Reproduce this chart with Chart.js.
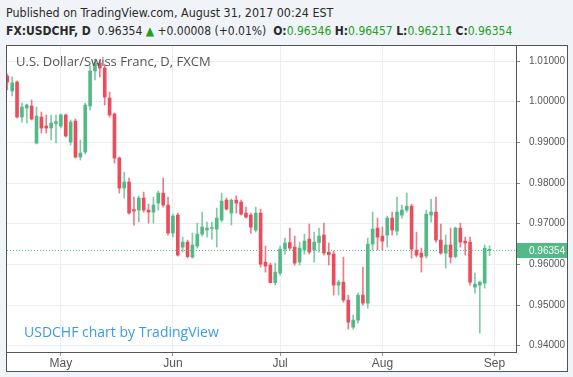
<!DOCTYPE html>
<html>
<head>
<meta charset="utf-8">
<script src="https://cdn.jsdelivr.net/npm/chart.js@4.4.0/dist/chart.umd.min.js"></script>
<style>
  body { margin: 0; background: #f0f3f7; width: 573px; height: 377px; overflow: hidden; position: relative; font-family: "Liberation Sans Narrow", "DejaVu Sans Condensed", "Liberation Sans", sans-serif; }
  .hdr { position: absolute; left: 6px; color: #2b2b2b; white-space: nowrap; }
  #hdr1 { top: 5px; font-size: 12.4px; }
  #hdr2 { top: 24px; font-size: 12px; }
  .b { font-weight: bold; }
  .g { color: #20a020; }
  #box { position: absolute; left: 6px; top: 45px; width: 560px; height: 325px; border: 1px solid #555; background: #fff; }
  #box canvas { position: absolute; left: 0; top: 0; }
  #wm1 { position: absolute; left: 9px; top: 6px; font: 13px "Open Sans", sans-serif; color: #555; }
  #wm2 { position: absolute; left: 17px; top: 276px; font: 14px "Open Sans", sans-serif; color: #3a9de0; }
</style>
</head>
<body>
<div class="hdr" id="hdr1">Published on TradingView.com, August 31, 2017 00:24 EST</div>
<div class="hdr" id="hdr2"><span class="b">FX:USDCHF, D</span>&nbsp; 0.96354 <span class="g">&#9650;</span> +0.00008 (+0.01%) &nbsp;<span class="b">O:</span><span class="g">0.96346</span> <span class="b">H:</span><span class="g">0.96457</span> <span class="b">L:</span><span class="g">0.96211</span> <span class="b">C:</span><span class="g">0.96354</span></div>
<div id="box">
  <canvas id="myChart" width="560" height="325" style="width:560px;height:325px"></canvas>
  <div id="wm1">U.S. Dollar/Swiss Franc, D, FXCM</div>
  <div id="wm2">USDCHF chart by TradingView</div>
</div>
<script>
// daily candles, Apr 14 - Aug 31 2017
const openP = [1.00631, 1.00262, 1.00483, 0.99622, 0.99844, 0.99893, 0.98983, 0.99622, 0.99401, 0.99352,
  0.99463, 0.99401, 0.99672, 0.99007, 0.99524, 0.98638, 0.98761, 0.99893, 1.00754, 1.00951,
  1.00828, 1.00090, 0.99696, 0.98614, 0.97876, 0.98023, 0.97347, 0.97335, 0.97630, 0.97335,
  0.97285, 0.97507, 0.97753, 0.97458, 0.96769, 0.97212, 0.96424, 0.96547, 0.96178, 0.96449,
  0.96744, 0.96843, 0.96880, 0.96867, 0.97089, 0.97581, 0.97261, 0.97581, 0.97531, 0.97261,
  0.97212, 0.96843, 0.97261, 0.96055, 0.95982, 0.95551, 0.95785, 0.96375, 0.96535, 0.96424,
  0.96055, 0.96351, 0.96621, 0.96351, 0.96535, 0.96720, 0.96301, 0.96252, 0.95490, 0.95563,
  0.95121, 0.94456, 0.94629, 0.95244, 0.95047, 0.96498, 0.96892, 0.96695, 0.96720, 0.97138,
  0.96818, 0.97212, 0.97335, 0.97433, 0.96351, 0.96277, 0.96203, 0.97212, 0.97285, 0.96597,
  0.96277, 0.96474, 0.96191, 0.96892, 0.96572, 0.96547, 0.95440, 0.95490, 0.95539, 0.96346];
const highP = [1.00680, 1.00606, 1.00508, 0.99967, 0.99942, 1.00041, 0.99868, 0.99745, 0.99672, 0.99672,
  0.99672, 0.99696, 0.99696, 0.99549, 0.99573, 0.99057, 0.99967, 1.00877, 1.01049, 1.01025,
  1.00926, 1.00237, 0.99721, 0.98638, 0.98269, 0.98122, 0.97654, 0.97679, 0.97777, 0.97482,
  0.97654, 0.97802, 0.98122, 0.97654, 0.97236, 0.97261, 0.96670, 0.96597, 0.96769, 0.97015,
  0.97285, 0.97039, 0.97039, 0.97384, 0.97753, 0.97630, 0.97605, 0.97686, 0.97581, 0.97408,
  0.97261, 0.97408, 0.97359, 0.96449, 0.96031, 0.96031, 0.96449, 0.96646, 0.96892, 0.96695,
  0.96547, 0.96744, 0.96990, 0.96793, 0.96892, 0.97015, 0.96523, 0.96326, 0.95613, 0.96178,
  0.95244, 0.94752, 0.95293, 0.95932, 0.96646, 0.97285, 0.97138, 0.96916, 0.97187, 0.97285,
  0.97654, 0.97458, 0.97753, 0.97482, 0.96793, 0.96400, 0.97335, 0.97605, 0.97654, 0.96990,
  0.96720, 0.96892, 0.96916, 0.97015, 0.96670, 0.96670, 0.95785, 0.95588, 0.96474, 0.96457];
const lowP = [1.00287, 1.00139, 0.99598, 0.99499, 0.99475, 0.99549, 0.98958, 0.99229, 0.99229, 0.99057,
  0.98983, 0.99352, 0.99130, 0.98934, 0.98614, 0.98565, 0.98712, 0.99795, 1.00533, 1.00606,
  0.99918, 0.99622, 0.98491, 0.97753, 0.97630, 0.97236, 0.96966, 0.97039, 0.97285, 0.97015,
  0.97015, 0.97335, 0.97408, 0.96720, 0.96670, 0.96203, 0.96301, 0.96154, 0.96154, 0.96400,
  0.96695, 0.96670, 0.96621, 0.96424, 0.97039, 0.97335, 0.96966, 0.97261, 0.97212, 0.97138,
  0.96769, 0.96793, 0.95932, 0.95809, 0.95539, 0.95490, 0.95736, 0.96252, 0.96351, 0.95982,
  0.95982, 0.96252, 0.96252, 0.96055, 0.96301, 0.96228, 0.95982, 0.95244, 0.95244, 0.95071,
  0.94407, 0.94407, 0.94555, 0.94998, 0.94924, 0.96351, 0.96351, 0.96351, 0.96424, 0.96720,
  0.96720, 0.97138, 0.97285, 0.96154, 0.96178, 0.95809, 0.96154, 0.97039, 0.96547, 0.96252,
  0.95908, 0.96031, 0.96154, 0.96424, 0.96228, 0.95490, 0.95293, 0.94309, 0.95416, 0.96211];
const closeP = [1.00483, 1.00459, 0.99622, 0.99868, 0.99918, 0.99573, 0.99647, 0.99352, 0.99352, 0.99475,
  0.99512, 0.99672, 0.99155, 0.99499, 0.98638, 0.98737, 0.99918, 1.00754, 1.00951, 1.00828,
  1.00114, 0.99672, 0.98614, 0.97876, 0.98023, 0.97261, 0.97310, 0.97630, 0.97335, 0.97285,
  0.97458, 0.97753, 0.97458, 0.96769, 0.97187, 0.96228, 0.96547, 0.96191, 0.96474, 0.96744,
  0.96916, 0.96892, 0.96895, 0.97138, 0.97556, 0.97359, 0.97581, 0.97507, 0.97236, 0.97162,
  0.96916, 0.97261, 0.96006, 0.95957, 0.95551, 0.95809, 0.96375, 0.96523, 0.96400, 0.96031,
  0.96400, 0.96572, 0.96301, 0.96547, 0.96695, 0.96277, 0.96240, 0.95490, 0.95563, 0.95121,
  0.94579, 0.94629, 0.95244, 0.95047, 0.96498, 0.96867, 0.96670, 0.96572, 0.97138, 0.96843,
  0.97285, 0.97335, 0.97433, 0.96375, 0.96228, 0.96178, 0.97236, 0.97285, 0.96597, 0.96277,
  0.96474, 0.96178, 0.96892, 0.96547, 0.96523, 0.95563, 0.95514, 0.95563, 0.96400, 0.96354];

const yTicks = [0.94, 0.95, 0.96, 0.97, 0.98, 0.99, 1.00, 1.01];
const monthLabels = ['May', 'Jun', 'Jul', 'Aug', 'Sep'];
const monthIdx = [11, 34, 56, 77, 100];
const lastPrice = 0.96354;

const upCol = '#53b987';
const downCol = '#eb4d5c';
const upWick = 'rgba(83,185,135,0.75)';
const downWick = 'rgba(235,77,92,0.75)';

function isUp(i) {
    return closeP[i] >= openP[i];
}

// last price dotted line + label on the axis
const lastPricePlugin = {
    id: 'lastPrice',
    afterDatasetsDraw(chart) {
        const { ctx, chartArea, scales } = chart;
        const py = Math.round(scales.y.getPixelForValue(lastPrice)) + 0.5;
        ctx.save();
        ctx.strokeStyle = upCol;
        ctx.lineWidth = 1;
        ctx.setLineDash([1, 2]);
        ctx.beginPath();
        ctx.moveTo(chartArea.left, py);
        ctx.lineTo(chartArea.right, py);
        ctx.stroke();
        ctx.restore();
    },
    afterDraw(chart) {
        const { ctx, chartArea, scales } = chart;
        const py = Math.round(scales.y.getPixelForValue(lastPrice)) + 0.5;
        ctx.save();
        ctx.fillStyle = upCol;
        ctx.fillRect(chartArea.right + 1, py - 7.5, 52, 15);
        ctx.fillStyle = '#fff';
        ctx.font = '10px "Liberation Sans", Arial, sans-serif';
        ctx.textBaseline = 'middle';
        ctx.fillText(lastPrice.toFixed(5), chartArea.right + 13, py + 0.5);
        ctx.restore();
    }
};

const ctx = document.getElementById('myChart');
new Chart(ctx, {
    type: 'bar',
    data: {
        datasets: [{
            label: 'wick',
            data: lowP.map((l, i) => ({ x: i, y: [l, highP[i]] })),
            barThickness: 1,
            grouped: false,
            backgroundColor: c => isUp(c.dataIndex) ? upWick : downWick
        }, {
            label: 'body',
            data: openP.map((o, i) => ({ x: i, y: [o, closeP[i]] })),
            barThickness: 3,
            minBarLength: 1,
            grouped: false,
            backgroundColor: c => isUp(c.dataIndex) ? upCol : downCol
        }]
    },
    options: {
        responsive: false,
        animation: false,
        devicePixelRatio: 1,
        layout: { padding: 0 },
        plugins: { legend: { display: false }, tooltip: { enabled: false } },
        scales: {
            x: {
                type: 'linear',
                offset: false,
                min: -0.06,
                max: 104.43,
                afterBuildTicks: s => { s.ticks = monthIdx.map(v => ({ value: v })); },
                afterFit: s => { s.height = 19; s.paddingLeft = 0; s.paddingRight = 0; },
                ticks: {
                    autoSkip: false,
                    maxRotation: 0,
                    padding: 0,
                    color: '#555',
                    font: { family: '"Liberation Sans Narrow", "Liberation Sans", sans-serif', size: 12 },
                    callback: (v, i) => monthLabels[i]
                },
                grid: { offset: false, color: '#e9eef3', tickColor: '#999', tickLength: 4 },
                border: { color: '#555' }
            },
            y: {
                position: 'right',
                min: 0.93845,
                max: 1.01369,
                afterBuildTicks: s => { s.ticks = yTicks.map(v => ({ value: v })); },
                afterFit: s => { s.width = 51; s.paddingTop = 0; s.paddingBottom = 0; },
                ticks: {
                    padding: 9,
                    color: '#555',
                    font: { family: '"Liberation Sans", Arial, sans-serif', size: 10 },
                    callback: v => v.toFixed(5)
                },
                grid: { color: '#e9eef3', tickColor: '#888', tickLength: 4 },
                border: { color: '#555' }
            }
        }
    },
    plugins: [lastPricePlugin]
});
</script>
</body>
</html>
